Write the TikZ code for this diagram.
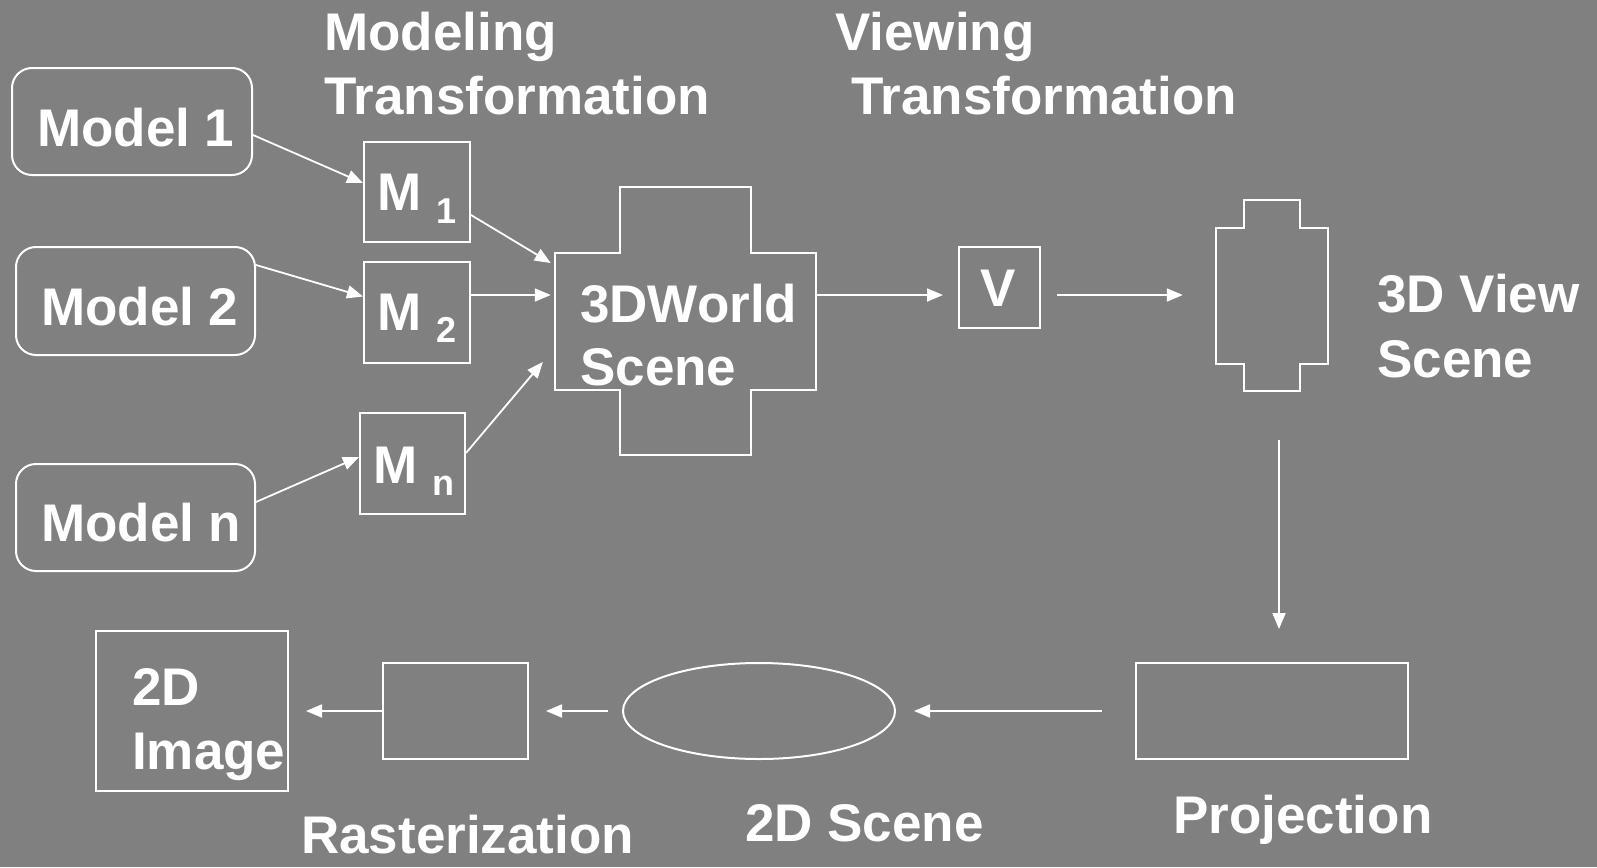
\documentclass[tikz,border=0pt]{standalone}
\usepackage{fontspec}
\setmainfont{Liberation Sans}
\usetikzlibrary{arrows.meta,calc,shapes.geometric}
\definecolor{bggray}{HTML}{808080}
\begin{document}
\begin{tikzpicture}[x=1pt,y=-1pt,
  lbl/.style={font=\fontsize{53}{62}\selectfont\bfseries, text=white, inner sep=0pt, anchor=base west},
  sub/.style={font=\fontsize{36}{42}\selectfont\bfseries, text=white, inner sep=0pt, anchor=base west},
  box/.style={draw=white, line width=2pt, inner sep=0pt, rectangle},
  rbox/.style={box, rounded corners=20pt},
  outline/.style={draw=white, line width=2pt},
  arr/.style={draw=white, line width=1.8pt, -{Triangle[length=16pt,width=13pt]}}]
\fill[bggray] (0,0) rectangle (1597,867);
\useasboundingbox (0,0) rectangle (1597,867);

% top labels
\node[lbl] (lmod) at (324,51) {Modeling};
\node[lbl] (lmodt) at (324,114) {Transformation};
\node[lbl] (lview) at (835,51) {Viewing};
\node[lbl] (lviewt) at (851,114) {Transformation};

% model boxes
\node[rbox, minimum width=240pt, minimum height=107pt] (model1) at (132,121.5) {};
\node[rbox, minimum width=239pt, minimum height=108pt] (model2) at (135.5,301) {};
\node[rbox, minimum width=239pt, minimum height=107pt] (modeln) at (135.5,517.5) {};
\node[lbl] (tmodel1) at (37,146) {Model 1};
\node[lbl] (tmodel2) at (41,325) {Model 2};
\node[lbl] (tmodeln) at (41,541) {Model n};

% M boxes
\node[box, minimum width=106pt, minimum height=100pt] (m1) at (417,192) {};
\node[box, minimum width=106pt, minimum height=101pt] (m2) at (417,312.5) {};
\node[box, minimum width=105pt, minimum height=101pt] (mn) at (412.5,463.5) {};
\node[lbl] (tm1) at (377,210) {M};
\node[sub] (tm1s) at (436,223) {1};
\node[lbl] (tm2) at (377,330) {M};
\node[sub] (tm2s) at (436,342) {2};
\node[lbl] (tmn) at (373,483) {M};
\node[sub] (tmns) at (432,495) {n};

% 3D world cross
\draw[outline] (620,187) -- (751,187) -- (751,253) -- (816,253) -- (816,390) -- (751,390)
  -- (751,455) -- (620,455) -- (620,390) -- (555,390) -- (555,253) -- (620,253) -- cycle;
\node[inner sep=0pt, minimum width=261pt, minimum height=137pt] (world) at (685.5,321.5) {};
\node[lbl] (tworld1) at (580,322) {3DWorld};
\node[lbl] (tworld2) at (580,385) {Scene};

% V box
\node[box, minimum width=81pt, minimum height=81pt] (v) at (999.5,287.5) {};
\node[lbl] (tv) at (980,306) {V};

% 3D view shape
\draw[outline] (1244,200) -- (1300,200) -- (1300,228) -- (1328,228) -- (1328,364) -- (1300,364)
  -- (1300,391) -- (1244,391) -- (1244,364) -- (1216,364) -- (1216,228) -- (1244,228) -- cycle;
\node[inner sep=0pt, minimum width=112pt, minimum height=191pt] (view) at (1272,295.5) {};
\node[lbl] (tview1) at (1377,312) {3D View};
\node[lbl] (tview2) at (1377,377) {Scene};

% bottom row
\node[box, minimum width=272pt, minimum height=96pt] (proj) at (1272,711) {};
\node[lbl] (tproj) at (1173,833) {Projection};
\node[draw=white, line width=2pt, ellipse, inner sep=0pt, minimum width=272pt, minimum height=96pt] (ell) at (759,711) {};
\node[lbl] (tscene) at (745,841) {2D Scene};
\node[box, minimum width=145pt, minimum height=96pt] (rast) at (455.5,711) {};
\node[lbl] (trast) at (301,853) {Rasterization};
\node[box, minimum width=192pt, minimum height=160pt] (img) at (192,711) {};
\node[lbl] (timg1) at (132,705) {2D};
\node[lbl] (timg2) at (132,769) {Image};

% connectors
\draw[arr] ([yshift=-13.5pt]model1.east) -- ([yshift=9pt]m1.west);
\draw[arr] ([yshift=36pt]model2.east) -- ([yshift=16pt]m2.west);
\draw[arr] ([yshift=15.5pt]modeln.east) -- ([yshift=6.5pt]mn.west);
\draw[arr] ([yshift=-23pt]m1.east) -- ([yshift=58.5pt,xshift=-4pt]world.west);
\draw[arr] ([yshift=17.5pt]m2.east) -- ([yshift=26.5pt,xshift=-4pt]world.west);
\draw[arr] ([yshift=10.5pt]mn.east) -- ([yshift=-40.5pt,xshift=-12pt]world.west);
\draw[arr] ([yshift=26.5pt]world.east) -- ([xshift=-15pt,yshift=-7.5pt]v.west);
\draw[arr] ([xshift=16pt,yshift=-7.5pt]v.east) -- ([xshift=-33pt,yshift=0.5pt]view.west);
\draw[arr] ([xshift=7pt,yshift=-49pt]view.south) -- ([xshift=7pt,yshift=33pt]proj.north);
\draw[arr] ([xshift=-33pt]proj.west) -- ([xshift=18pt]ell.east);
\draw[arr] ([xshift=-14pt]ell.west) -- ([xshift=17pt]rast.east);
\draw[arr] (rast.west) -- ([xshift=17pt]img.east);
\end{tikzpicture}
\end{document}
